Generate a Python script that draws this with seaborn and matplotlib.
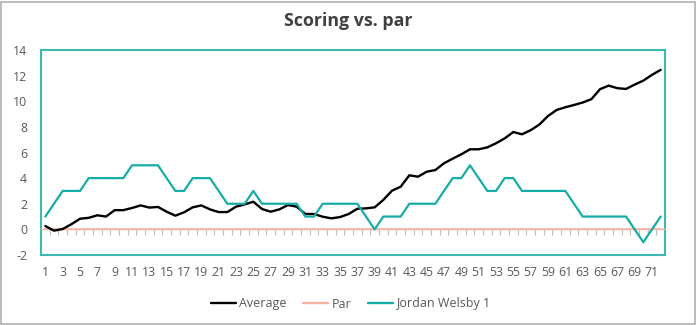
import numpy as np
import pandas as pd
import matplotlib
matplotlib.use("Agg")
import matplotlib.pyplot as plt
from matplotlib.patches import Rectangle
import seaborn as sns

holes = list(range(1, 73))
average = [0.26, -0.1, 0.03, 0.4, 0.83, 0.9, 1.1, 1.0, 1.5, 1.5,
           1.67, 1.87, 1.7, 1.75, 1.38, 1.07, 1.33, 1.72, 1.87, 1.56,
           1.35, 1.35, 1.77, 1.95, 2.16, 1.59, 1.38, 1.56, 1.9, 1.77,
           1.2, 1.2, 0.99, 0.86, 0.96, 1.2, 1.61, 1.64, 1.72, 2.3,
           3.02, 3.33, 4.22, 4.11, 4.5, 4.63, 5.16, 5.52, 5.86, 6.25,
           6.25, 6.4, 6.72, 7.1, 7.6, 7.42, 7.74, 8.18, 8.85, 9.32,
           9.53, 9.71, 9.9, 10.16, 10.94, 11.22, 11.02, 10.96, 11.3, 11.61,
           12.06, 12.45]
par = [0] * 72
jordan = [1, 2, 3, 3, 3, 4, 4, 4, 4, 4,
          5, 5, 5, 5, 4, 3, 3, 4, 4, 4,
          3, 2, 2, 2, 3, 2, 2, 2, 2, 2,
          1, 1, 2, 2, 2, 2, 2, 1, 0, 1,
          1, 1, 2, 2, 2, 2, 3, 4, 4, 5,
          4, 3, 3, 4, 4, 3, 3, 3, 3, 3,
          3, 2, 1, 1, 1, 1, 1, 1, 0, -1,
          0, 1]
series_names = ["Average", "Par", "Jordan Welsby 1"]
yticks = list(range(-2, 15, 2))
xtick_labels = list(range(1, 72, 2))
title = "Scoring vs. par"

colors = {"Average": "#000000", "Par": "#F6B3A3", "Jordan Welsby 1": "#16ADA8"}
widths = {"Average": 1.7, "Par": 1.2, "Jordan Welsby 1": 1.6}
frame_col = "#3DB8B3"
text_col = "#595959"

df = pd.DataFrame({
    "Hole": holes * 3,
    "Score": average + par + jordan,
    "Series": [series_names[0]] * 72 + [series_names[1]] * 72 + [series_names[2]] * 72,
})

sns.set_theme(style="white")
plt.rcParams["font.family"] = ["Open Sans", "DejaVu Sans"]

fig = plt.figure(figsize=(6.97, 3.25), dpi=100)
ax = fig.add_axes([41 / 697, 1 - 255 / 325, 624 / 697, 205 / 325])

for name in ["Par", "Average", "Jordan Welsby 1"]:
    sub = df[df["Series"] == name]
    sns.lineplot(data=sub, x="Hole", y="Score", ax=ax, color=colors[name],
                 linewidth=widths[name], label=name, legend=False,
                 zorder=3 if name != "Par" else 2)

ax.set_xlim(0.5, 72.5)
ax.set_ylim(-2, 14)
ax.set_yticks(yticks)
ax.set_yticklabels([str(v) for v in yticks])
ax.set_xlabel("")
ax.set_ylabel("")

for s in ["top", "left", "right"]:
    ax.spines[s].set_color(frame_col)
    ax.spines[s].set_linewidth(1.5)
ax.spines["bottom"].set_position(("data", 0))
ax.spines["bottom"].set_color(colors["Par"])
ax.spines["bottom"].set_linewidth(1.0)

ax.set_xticks([])
ax.set_xticks(np.arange(0.5, 73, 1), minor=True)
ax.tick_params(axis="x", which="minor", direction="out", length=4, width=0.8,
               color="#BFBFBF", labelbottom=False, bottom=True)
ax.tick_params(axis="y", length=0, labelsize=8.8, labelcolor=text_col, pad=10)

sec = ax.secondary_xaxis("bottom")
sec.set_xticks(xtick_labels)
sec.set_xticklabels([str(v) for v in xtick_labels])
sec.tick_params(length=0, labelsize=8.8, labelcolor=text_col, pad=8)
sec.spines["bottom"].set_color(frame_col)
sec.spines["bottom"].set_linewidth(1.5)

fig.suptitle(title, x=0.5, y=1 - 21 / 325, va="center", fontsize=12.8,
             fontweight="bold", color="#404040")

order = ["Average", "Par", "Jordan Welsby 1"]
handles = [plt.Line2D([], [], color=colors[n], linewidth=1.7) for n in order]
fig.legend(handles, order, loc="center", bbox_to_anchor=(0.503, 1 - 304 / 325),
           ncol=3, frameon=False, fontsize=9, labelcolor=text_col,
           handlelength=2.0, handletextpad=0.25, columnspacing=1.35)

fig.patches.append(Rectangle((1 / 697, 1 / 325), 694 / 697, 322 / 325,
                             transform=fig.transFigure, fill=False,
                             edgecolor="#B0B0B0", linewidth=1.2))

fig.savefig("out.png", dpi=100)
